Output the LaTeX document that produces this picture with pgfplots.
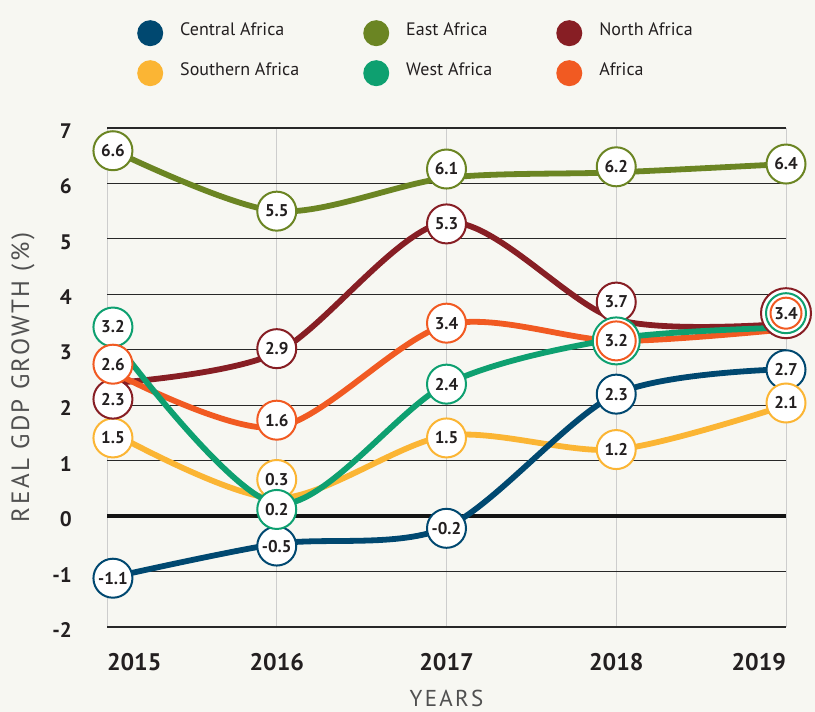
\documentclass[border=0pt]{standalone}
\usepackage{pgfplots}
\pgfplotsset{compat=1.18}
\usepackage{pgfplotstable}
\usepackage{fontspec}
\setmainfont{PT Sans}
\newfontfamily\spacedfont[LetterSpace=10]{PT Sans}

\definecolor{bg}{RGB}{247,247,242}
\definecolor{cafr}{RGB}{0,72,112}
\definecolor{eafr}{RGB}{107,133,35}
\definecolor{nafr}{RGB}{135,30,36}
\definecolor{safr}{RGB}{251,181,52}
\definecolor{wafr}{RGB}{14,160,112}
\definecolor{afr}{RGB}{241,90,34}
\definecolor{txt}{RGB}{35,31,32}
\definecolor{labgray}{RGB}{80,80,80}
\definecolor{vgrid}{RGB}{205,205,205}
\definecolor{hgrid}{RGB}{40,40,40}

% ---- line data (curve path) ----
\pgfplotstableread{
x y
2015.035 -1.1
2016 -0.5
2017 -0.2
2018 2.2
2019 2.65
}\clin
\pgfplotstableread{
x y
2015.035 6.6
2016 5.5
2017 6.1
2018 6.2
2019 6.35
}\elin
\pgfplotstableread{
x y
2015.035 2.4
2016 2.95
2017 5.3
2018 3.55
2019 3.47
}\nlin
\pgfplotstableread{
x y
2015.035 1.5
2016 0.32
2017 1.45
2018 1.2
2019 2.0
}\slin
\pgfplotstableread{
x y
2015.035 3.2
2016 0.22
2017 2.38
2018 3.2
2019 3.4
}\wlin
\pgfplotstableread{
x y
2015.035 2.6
2016 1.6
2017 3.45
2018 3.16
2019 3.37
}\alin

% ---- label markers (position, label) ----
\pgfplotstableread{
x y lab
2015.035 -1.12 -1.1
2016 -0.54 -0.5
2017 -0.22 -0.2
2018 2.2 2.3
2019 2.64 2.7
}\cmk
\pgfplotstableread{
x y lab
2015.035 6.59 6.6
2016 5.5 5.5
2017 6.26 6.1
2018 6.3 6.2
2019 6.35 6.4
}\emk
\pgfplotstableread{
x y lab
2015.035 2.11 2.3
2016 3.02 2.9
2017 5.27 5.3
2018 3.86 3.7
}\nmk
\pgfplotstableread{
x y lab
2015.035 1.41 1.5
2016 0.66 0.3
2017 1.41 1.5
2018 1.2 1.2
2019 2.04 2.1
}\smk
\pgfplotstableread{
x y lab
2015.035 3.41 3.2
2016 0.12 0.2
2017 2.38 2.4
}\wmk
\pgfplotstableread{
x y lab
2015.035 2.74 2.6
2016 1.73 1.6
2017 3.48 3.4
2018 3.16 3.2
}\amk
\pgfplotstableread{
x y lab
2019 3.66 3.4
}\amkb

\newcommand\lab{\bfseries\fontsize{17bp}{19bp}\selectfont}

\pgfplotsset{
  mk/.style={only marks, mark=*, mark size=19.5bp,
    mark options={draw=#1, fill=white, line width=2bp},
    nodes near coords, point meta=explicit symbolic,
    every node near coord/.append style={anchor=center, inner sep=0pt, font=\lab, text=txt},
    forget plot},
  ring/.style 2 args={only marks, mark=*, mark size=#2,
    mark options={draw=#1, fill=white, line width=2bp}, forget plot},
  ln/.style={color=#1, line width=5.8bp, smooth, tension=0.5, forget plot},
}

\begin{document}
\begin{tikzpicture}
\path[use as bounding box, fill=bg] (0,0) rectangle (815bp,712bp);
\begin{axis}[
  at={(107bp,85bp)}, anchor=south west,
  scale only axis, width=679bp, height=499bp,
  xmin=2015, xmax=2019, ymin=-2, ymax=7,
  clip=false,
  axis line style={draw=none},
  major tick length=0pt,
  xtick={2015,2016,2017,2018,2019},
  xticklabels={\makebox[0pt][l]{2015},2016,2017,2018,\makebox[0pt][r]{2019}},
  ytick={-2,-1,0,1,2,3,4,5,6,7},
  yticklabels={-2,-1,0,1,2,3,4,5,6,7},
  xticklabel style={anchor=north, inner sep=0pt, yshift=-26bp,
    font=\bfseries\fontsize{24bp}{28bp}\selectfont, text=txt},
  yticklabel style={anchor=east, inner sep=0pt, xshift=-35bp, yshift=-3bp,
    font=\bfseries\fontsize{21bp}{24bp}\selectfont, text=txt},
  xmajorgrids, ymajorgrids,
  x grid style={color=vgrid, line width=1bp},
  y grid style={color=hgrid, line width=1.2bp},
  xlabel={YEARS},
  xlabel style={at={(axis description cs:0.5,0)}, anchor=north, yshift=-63bp,
    inner sep=0pt, font=\spacedfont\fontsize{23bp}{26bp}\selectfont, text=labgray},
  ylabel={REAL GDP GROWTH (\%)},
  ylabel style={at={(axis description cs:-0.1237,0.5)}, anchor=center,
    inner sep=0pt, font=\spacedfont\fontsize{25bp}{28bp}\selectfont, text=labgray},
  legend columns=3,
  legend cell align=left,
  legend image code/.code={\fill[#1, draw=none] (13bp,-3.5bp) circle (13bp); \path[draw=none, fill=none] (0bp,0bp) -- (43bp,0bp);},
  legend style={at={(axis description cs:0.0442,1.2165)}, anchor=north west,
    draw=none, fill=none, inner sep=0pt,
    nodes={inner sep=0pt, font=\fontsize{18bp}{21bp}\selectfont, text=txt},
    /tikz/column sep=0pt, row sep=14bp,
    /tikz/every even column/.append style={column sep=64bp}},
]
% zero line
\addplot[color=black!92, line width=4.5bp, forget plot] coordinates {(2015,0) (2019,0)};

% curves
\addplot[ln=safr] table {\slin};
\addplot[ln=cafr] table {\clin};
\addplot[ln=nafr] table {\nlin};
\addplot[ln=afr] table {\alin};
\addplot[ln=wafr] table {\wlin};
\addplot[ln=eafr] table {\elin};

% label markers
\addplot[mk=cafr] table[x=x, y=y, meta=lab] {\cmk};
\addplot[mk=safr] table[x=x, y=y, meta=lab] {\smk};
\addplot[mk=eafr] table[x=x, y=y, meta=lab] {\emk};
\addplot[mk=nafr] table[x=x, y=y, meta=lab] {\nmk};
\addplot[ring={nafr}{25bp}] coordinates {(2019,3.66)};
\addplot[mk=wafr] table[x=x, y=y, meta=lab] {\wmk};
\addplot[ring={wafr}{23.5bp}] coordinates {(2018,3.16)};
\addplot[ring={wafr}{20bp}] coordinates {(2019,3.66)};
\addplot[mk=afr] table[x=x, y=y, meta=lab] {\amk};
\addplot[mk=afr, mark size=15.5bp] table[x=x, y=y, meta=lab] {\amkb};

% legend
\addlegendimage{color=cafr}\addlegendentry{Central Africa}
\addlegendimage{color=eafr}\addlegendentry{East Africa}
\addlegendimage{color=nafr}\addlegendentry{North Africa}
\addlegendimage{color=safr}\addlegendentry{Southern Africa}
\addlegendimage{color=wafr}\addlegendentry{West Africa}
\addlegendimage{color=afr}\addlegendentry{Africa}
\end{axis}
\end{tikzpicture}
\end{document}
